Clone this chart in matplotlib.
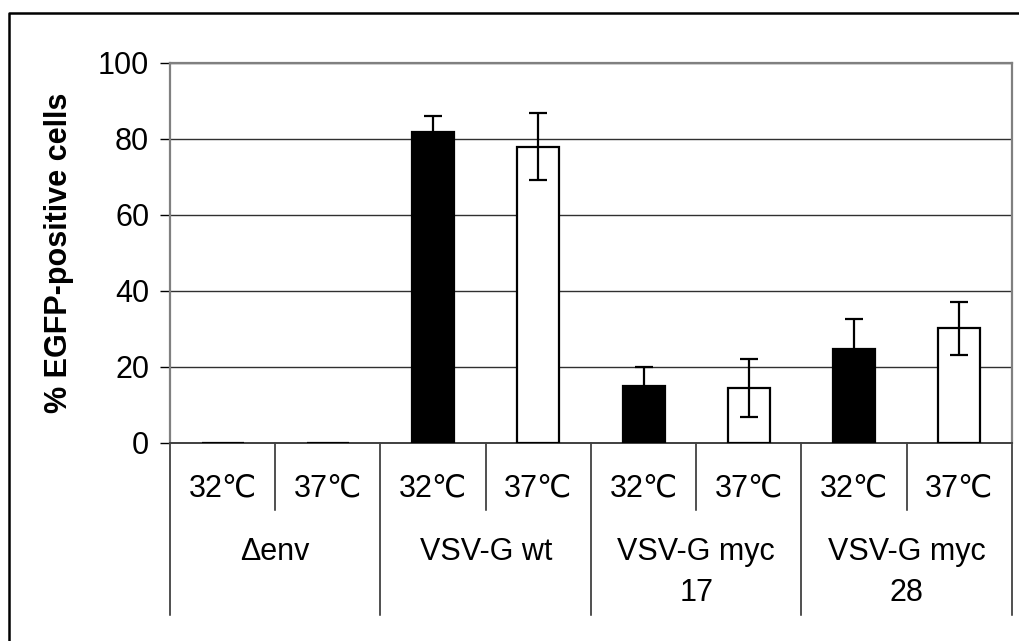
import matplotlib
matplotlib.use("Agg")
import matplotlib.pyplot as plt
from matplotlib.lines import Line2D
import matplotlib.transforms as mtransforms

plt.rcParams['font.family'] = ['Liberation Sans', 'DejaVu Sans']

# ---- data ----
temps = ["32\u2103", "37\u2103"] * 4
groups = ["\u0394env", "VSV-G wt", "VSV-G myc\n17", "VSV-G myc\n28"]
values = [0, 0, 81.7, 77.8, 15.0, 14.4, 24.6, 30.1]
errors = [0, 0, 4.3, 8.8, 5.0, 7.6, 8.0, 7.0]
colors = ["black", "white"] * 4
yticks = [0, 20, 40, 60, 80, 100]

FS = 22
W, H = 1020, 641
fig = plt.figure(figsize=(W / 100, H / 100), dpi=100)
ax = fig.add_axes([170 / W, 1 - 443 / H, (1012 - 170) / W, (443 - 62.5) / H])

x = list(range(len(values)))
for i in x:
    ax.bar(i, values[i], width=0.4, color=colors[i], edgecolor="black",
           linewidth=1.6, zorder=3)
    if errors[i] > 0:
        ax.errorbar(i, values[i], yerr=errors[i], fmt="none", ecolor="black",
                    elinewidth=1.6, capsize=6.5, capthick=1.6, zorder=4)

ax.set_xlim(-0.5, len(values) - 0.5)
ax.set_ylim(0, 100)
ax.set_yticks(yticks)
ax.set_yticklabels([str(t) for t in yticks], fontsize=FS)
ax.tick_params(axis="y", direction="out", length=7, width=1, pad=8, colors="black")
ax.set_xticks([])
ax.yaxis.grid(True, color="#303030", linewidth=1, zorder=0)
ax.set_axisbelow(True)
for side in ["top", "right", "left"]:
    ax.spines[side].set_color("#808080")
    ax.spines[side].set_linewidth(1.6)
ax.spines["bottom"].set_color("#404040")
ax.spines["bottom"].set_linewidth(1.4)

ax.set_ylabel("% EGFP-positive cells", fontsize=FS, fontweight="bold")
ax.yaxis.set_label_coords(-(170 - 74) / (1012 - 170), 0.5)

# category table beneath the axis
trans = mtransforms.blended_transform_factory(ax.transData, ax.transAxes)
axh = 443 - 62.5
y_short = -(510 - 443) / axh
y_long = -(615 - 443) / axh
for k in range(len(values) + 1):
    xpos = k - 0.5
    ylo = y_long if k % 2 == 0 else y_short
    ax.plot([xpos, xpos], [0, ylo], transform=trans, color="#202020",
            linewidth=1.1, clip_on=False)

for i, t in enumerate(temps):
    ax.text(i, -(488 - 443) / axh, t, transform=trans, ha="center",
            va="center", fontsize=FS)

line_centers = [552, 593]
for g, name in enumerate(groups):
    for j, line in enumerate(name.split("\n")):
        ax.text(2 * g + 0.5, -(line_centers[j] - 443) / axh, line,
                transform=trans, ha="center", va="center", fontsize=FS)

# outer frame (only top and left edges visible)
fx, fy = 9.5 / W, 1 - 12.5 / H
fig.lines.append(Line2D([fx, fx, 1.05], [-0.05, fy, fy], transform=fig.transFigure,
                        color="black", linewidth=1.8))

fig.savefig("out.png", dpi=100)
